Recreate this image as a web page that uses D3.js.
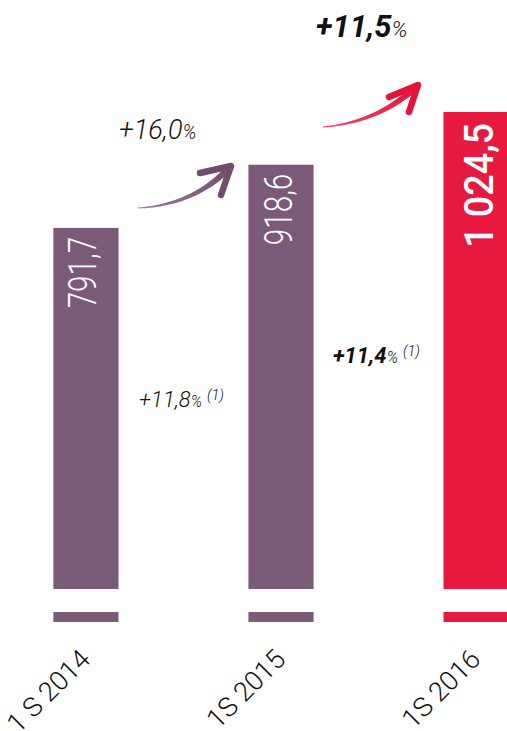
<!DOCTYPE html>
<html><head><meta charset="utf-8">
<script src="https://cdn.jsdelivr.net/npm/d3@7"></script>
<style>html,body{margin:0;padding:0;background:#fff;}svg{display:block;}</style>
</head><body>
<svg id="c" width="507" height="731"></svg>
<script>
const categories = ["1 S 2014", "1S 2015", "1S 2016"];
const values = [791.7, 918.6, 1024.5];
const valueLabels = ["791,7", "918,6", "1 024,5"];
const yoyLabels = ["+16,0", "+11,5"];
const organicLabels = ["+11,8", "+11,4"];

const W = 507, H = 731;
const svg = d3.select("#c");
const purple = "#7B5A78", red = "#E8193F";
const colors = [purple, purple, red];

const x = d3.scaleBand().domain(categories).range([-11, 573]).paddingInner(0.666).paddingOuter(0.33);
const y = d3.scaleLinear().domain([0, 1024.5]).range([622, 112]);

const g = svg.append("g");
g.selectAll("rect.bar").data(values).join("rect")
  .attr("class", "bar")
  .attr("x", (d, i) => x(categories[i]))
  .attr("width", x.bandwidth())
  .attr("y", d => y(d))
  .attr("height", d => y(0) - y(d))
  .attr("fill", (d, i) => colors[i]);

// axis break
svg.append("rect").attr("x", 0).attr("width", W).attr("y", 589).attr("height", 23).attr("fill", "#fff");

const font = "Roboto, 'Open Sans', sans-serif";
// value labels (rotated, condensed)
g.selectAll("text.val").data(values).join("text")
  .attr("class", "val")
  .attr("transform", (d, i) => `translate(${x(categories[i]) + x.bandwidth() / 2 + (i === 2 ? 16.5 : 10.5)},${y(d) + (i === 2 ? 11 : 9)}) rotate(-90) scale(${i === 2 ? 0.92 : 0.76},1)`)
  .attr("text-anchor", "end")
  .attr("fill", "#fff")
  .attr("font-family", font)
  .attr("font-weight", (d, i) => i === 2 ? 500 : 300)
  .attr("font-size", (d, i) => i === 2 ? 41 : 39)
  .text((d, i) => valueLabels[i]);

// category labels
const xAxis = d3.axisBottom(x).tickSize(0).tickPadding(0);
const ax = svg.append("g").call(xAxis);
ax.select(".domain").remove();
ax.selectAll(".tick text")
  .attr("font-family", font)
  .attr("font-weight", 300)
  .attr("font-size", 27)
  .attr("fill", "#111")
  .attr("text-anchor", "end")
  .attr("y", 0).attr("dy", 0)
  .attr("transform", `translate(${x.bandwidth() / 2 + 6},${661}) rotate(-45)`);
ax.selectAll(".tick").attr("transform", d => `translate(${x(d)},0)`);

// arrows
function arrow(p0, c, tip, w1, w2, col1, col2, id) {
  const grad = svg.append("defs").append("linearGradient").attr("id", id)
    .attr("gradientUnits", "userSpaceOnUse")
    .attr("x1", p0[0]).attr("y1", p0[1]).attr("x2", tip[0]).attr("y2", tip[1]);
  grad.append("stop").attr("offset", 0).attr("stop-color", col1);
  grad.append("stop").attr("offset", 1).attr("stop-color", col2);
  const steps = 30, left = [], right = [];
  for (let i = 0; i <= steps; i++) {
    const t = i / steps;
    const px = (1 - t) * (1 - t) * p0[0] + 2 * (1 - t) * t * c[0] + t * t * tip[0];
    const py = (1 - t) * (1 - t) * p0[1] + 2 * (1 - t) * t * c[1] + t * t * tip[1];
    const dx = 2 * (1 - t) * (c[0] - p0[0]) + 2 * t * (tip[0] - c[0]);
    const dy = 2 * (1 - t) * (c[1] - p0[1]) + 2 * t * (tip[1] - c[1]);
    const L = Math.hypot(dx, dy);
    const hw = 0.5 + 3 * t;
    left.push([px - dy / L * hw, py + dx / L * hw]);
    right.push([px + dy / L * hw, py - dx / L * hw]);
  }
  const pts = left.concat(right.reverse());
  svg.append("path").attr("d", d3.line()(pts) + "Z").attr("fill", `url(#${id})`);
  svg.append("path").attr("d", d3.line()([w1, tip, w2]))
    .attr("fill", "none").attr("stroke", col2).attr("stroke-width", 6.5)
    .attr("stroke-linecap", "round").attr("stroke-linejoin", "round");
}
arrow([138, 208], [195, 205], [231, 166], [200, 173], [221, 195], "#9C7E99", "#6F4E6C", "g1");
arrow([323, 127], [380, 122], [418, 85], [389, 97], [409, 112], "#F04A68", "#E2143A", "g2");

// growth labels
function growth(xp, yp, main, size, weight, sup) {
  const t = svg.append("text").attr("x", xp).attr("y", yp)
    .attr("font-family", font).attr("font-style", "italic")
    .attr("font-weight", weight).attr("font-size", size).attr("fill", "#111");
  t.append("tspan").text(main);
  t.append("tspan").attr("font-size", size * 0.72).attr("font-weight", 300).text("%");
  if (sup) t.append("tspan").attr("font-size", size * 0.66).attr("font-weight", 300).attr("dx", 5).attr("dy", -7).text("(1)");
}
growth(119, 139, yoyLabels[0], 27, 300, false);
growth(316, 37, yoyLabels[1], 31, 700, false);
growth(139, 407, organicLabels[0], 22, 300, true);
growth(333, 363, organicLabels[1], 22, 700, true);
</script>
</body></html>
